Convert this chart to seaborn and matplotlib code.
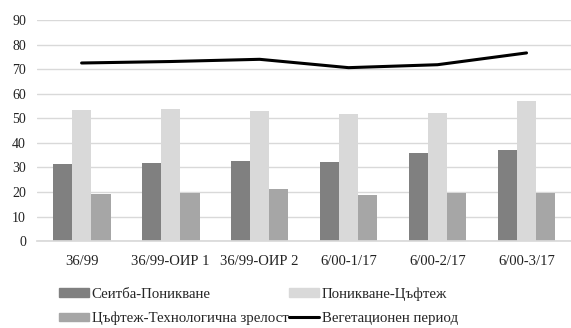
import matplotlib
matplotlib.use("Agg")
import matplotlib.pyplot as plt
import seaborn as sns
import numpy as np
import pandas as pd
from matplotlib.patches import Patch
from matplotlib.lines import Line2D

categories = ["36/99", "36/99-ОИР 1", "36/99-ОИР 2", "6/00-1/17", "6/00-2/17", "6/00-3/17"]
sowing_emergence = [31.5, 31.9, 32.4, 32.1, 35.9, 36.9]
emergence_flowering = [53.4, 53.7, 53.1, 51.8, 52.3, 57.2]
flowering_maturity = [19.1, 19.5, 21.0, 18.7, 19.4, 19.4]
vegetation_period = [72.5, 73.1, 74.0, 70.6, 71.8, 76.6]
series_names = ["Сеитба-Поникване", "Поникване-Цъфтеж", "Цъфтеж-Технологична зрелост"]
line_name = "Вегетационен период"
colors = ["#808080", "#d9d9d9", "#a6a6a6"]

sns.set_theme(style="white")
plt.rcParams['font.family'] = ['Liberation Serif', 'DejaVu Serif']

df = pd.DataFrame({
    "cat": categories * 3,
    "val": sowing_emergence + emergence_flowering + flowering_maturity,
    "series": [series_names[0]] * 6 + [series_names[1]] * 6 + [series_names[2]] * 6,
})

fig = plt.figure(figsize=(5.71, 3.28), dpi=100)
ax = fig.add_axes([0.065, 0.265, 0.935, 0.674])

sns.barplot(data=df, x="cat", y="val", hue="series", palette=colors, width=0.65,
            gap=0, linewidth=0, ax=ax, legend=False, order=categories, hue_order=series_names)
sns.lineplot(x=np.arange(len(categories)), y=vegetation_period, color="black", linewidth=2.2, ax=ax)

ax.set_ylim(0, 90)
ax.set_yticks(range(0, 91, 10))
ax.set_xlim(-0.5, len(categories) - 0.5)
ax.set_xlabel("")
ax.set_ylabel("")
ax.yaxis.grid(True, color="#d9d9d9", linewidth=1)
ax.set_axisbelow(True)
for s in ["left", "right", "top"]:
    ax.spines[s].set_visible(False)
ax.spines["bottom"].set_color("#d9d9d9")
ax.tick_params(axis="y", length=0, pad=8, labelsize=10, colors="#222222")
ax.tick_params(axis="x", length=0, pad=10, labelsize=10.5, colors="#222222")

handles = [Patch(color=colors[0]), Patch(color=colors[2]), Patch(color=colors[1]),
           Line2D([0], [0], color="black", linewidth=2.2)]
labels = [series_names[0], series_names[2], series_names[1], line_name]
fig.legend(handles, labels, ncol=2, loc="lower left", bbox_to_anchor=(0.103, 0.008),
           frameon=False, fontsize=10.7, handlelength=2.0, handleheight=0.5,
           columnspacing=0.05, handletextpad=0.2, labelspacing=0.75,
           borderpad=0, borderaxespad=0)

fig.savefig("out.png", dpi=100)
